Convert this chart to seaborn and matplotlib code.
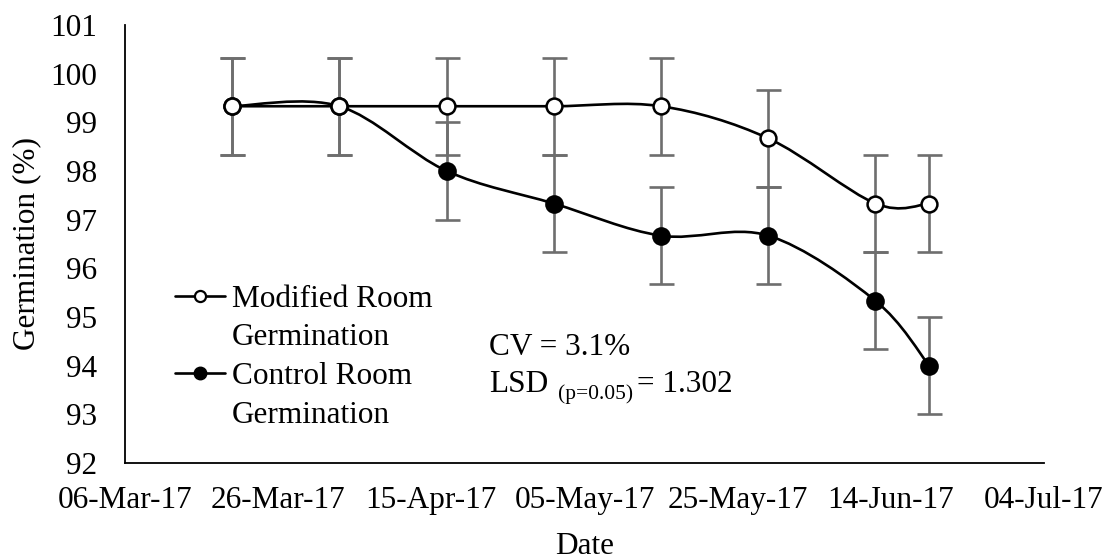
import numpy as np
import pandas as pd
import matplotlib
matplotlib.use("Agg")
import matplotlib.pyplot as plt
import matplotlib.dates as mdates
from matplotlib.path import Path
from matplotlib.patches import PathPatch
from matplotlib.lines import Line2D
import seaborn as sns

# data
dates = ["2017-03-20", "2017-04-03", "2017-04-17", "2017-05-01",
         "2017-05-15", "2017-05-29", "2017-06-12", "2017-06-19"]
modified = [99.33, 99.33, 99.33, 99.33, 99.33, 98.67, 97.33, 97.33]
control = [99.33, 99.33, 98.00, 97.33, 96.67, 96.67, 95.33, 94.00]
err = [1.0, 1.0, 1.0, 1.0, 1.0, 1.0, 1.0, 1.0]
x_ticks = ["2017-03-06", "2017-03-26", "2017-04-15", "2017-05-05",
           "2017-05-25", "2017-06-14", "2017-07-04"]
y_ticks = [92, 93, 94, 95, 96, 97, 98, 99, 100, 101]

df = pd.DataFrame({"Date": pd.to_datetime(dates), "Modified": modified,
                   "Control": control, "err": err})

sns.set_theme(style="white")
plt.rcParams['font.family'] = ['Liberation Serif', 'DejaVu Serif']
plt.rcParams['text.color'] = 'black'
plt.rcParams['axes.labelcolor'] = 'black'

fs = 22.5
plt.rcParams['font.size'] = fs
fig = plt.figure(figsize=(11.1, 5.59), dpi=100)
ax = fig.add_axes([0.1126, 0.172, 0.8279, 0.7833])

xn = mdates.date2num(df["Date"])


# smooth curve through the points (like Excel's smoothed line)
def smooth_path(x, y):
    pts = np.column_stack([x, y])
    verts = [pts[0]]
    codes = [Path.MOVETO]
    n = len(pts)
    for i in range(n - 1):
        p0 = pts[i - 1] if i > 0 else pts[i]
        p1 = pts[i]
        p2 = pts[i + 1]
        p3 = pts[i + 2] if i + 2 < n else pts[i + 1]
        c1 = p1 + (p2 - p0) / 6
        c2 = p2 - (p3 - p1) / 6
        verts += [c1, c2, p2]
        codes += [Path.CURVE4] * 3
    return Path(verts, codes)


grey = "#6e6e6e"
for col in ["Modified", "Control"]:
    ax.errorbar(xn, df[col], yerr=df["err"], fmt="none", ecolor=grey,
                elinewidth=1.9, capsize=9, capthick=1.9, zorder=1)

for col in ["Control", "Modified"]:
    ax.add_patch(PathPatch(smooth_path(xn, df[col].values), facecolor="none",
                           edgecolor="black", lw=1.9, zorder=2))

sns.scatterplot(x=xn, y=df["Control"], ax=ax, s=150, color="black",
                edgecolor="black", linewidth=1.2, zorder=3)
sns.scatterplot(x=xn, y=df["Modified"], ax=ax, s=130, color="white",
                edgecolor="black", linewidth=1.8, zorder=4)

xt = mdates.date2num(pd.to_datetime(x_ticks))
ax.set_xlim(xt[0], xt[-1])
ax.set_ylim(92, 101)
ax.set_xticks(xt)
ax.set_xticklabels(pd.to_datetime(x_ticks).strftime("%d-%b-%y"))
ax.set_yticks(y_ticks)
ax.tick_params(axis="both", length=0, labelsize=fs, colors="black")
ax.tick_params(axis="y", pad=20)
ax.tick_params(axis="x", pad=17)

for s in ["top", "right"]:
    ax.spines[s].set_visible(False)
for s in ["left", "bottom"]:
    ax.spines[s].set_color("black")
    ax.spines[s].set_linewidth(1.3)

ax.set_xlabel("Date", fontsize=fs, labelpad=12)
ax.set_ylabel("Germination (%)", fontsize=fs, labelpad=6.5)

# legend: marker on the first line of each two-line label
empty = Line2D([], [], linestyle="none", marker=None)
handles = [
    Line2D([], [], color="black", lw=1.9, marker="o", markersize=8,
           markerfacecolor="white", markeredgecolor="black", markeredgewidth=1.6),
    empty,
    Line2D([], [], color="black", lw=1.9, marker="o", markersize=9,
           markerfacecolor="black", markeredgecolor="black"),
    empty,
]
labels = ["Modified Room", "Germination", "Control Room", "Germination"]
ax.legend(handles, labels, loc="upper left", bbox_to_anchor=(0.0544, 0.407),
          frameon=False, fontsize=fs, handlelength=1.6, handletextpad=0.22,
          labelspacing=0.31, borderaxespad=0, borderpad=0)

ax.text(0.396, 0.246, "CV = 3.1%", transform=ax.transAxes, fontsize=fs,
        va="baseline", ha="left")
ax.text(0.396, 0.162, "LSD", transform=ax.transAxes, fontsize=fs,
        va="baseline", ha="left")
ax.text(0.471, 0.146, "(p=0.05)", transform=ax.transAxes, fontsize=15.5,
        va="baseline", ha="left")
ax.text(0.557, 0.162, "= 1.302", transform=ax.transAxes, fontsize=fs,
        va="baseline", ha="left")

fig.savefig("out.png", dpi=100)
